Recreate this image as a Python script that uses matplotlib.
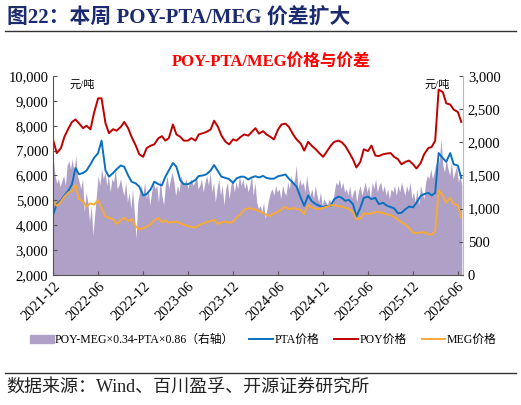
import pandas as pd
import matplotlib
matplotlib.use("Agg")
import matplotlib.pyplot as plt
import matplotlib.dates as mdates
from matplotlib.patches import Patch
from matplotlib.lines import Line2D
from matplotlib.ticker import FuncFormatter

plt.rcParams['font.family'] = ['Liberation Serif', 'Noto Sans CJK SC']
plt.rcParams['axes.unicode_minus'] = False

# semi-monthly prices (yuan/ton), from 2021-12-01
poy = [7400, 6900, 7100, 7550, 7900, 8150, 8250, 8100, 7900, 8000,
       7850, 8500, 9100, 9100, 8100, 7700, 7860, 7800, 7950, 8150,
       7900, 7550, 7200, 6850, 6750, 7100, 7200, 7250, 7500, 7580,
       7400, 7500, 8050, 7650, 7550, 7400, 7400, 7500, 7400, 7650,
       7700, 7750, 7850, 8200, 7950, 7600, 7350, 7250, 7450, 7400,
       7550, 7650, 7600, 7750, 7900, 7680, 7780, 7650, 7550, 7450,
       7850, 8050, 8080, 7950, 7650, 7450, 7280, 7000, 7350, 7200,
       7050, 6900, 6750, 6950, 7200, 7350, 7400, 7330, 7180, 6950,
       6650, 6320, 6550, 7050, 6980, 7200, 6800, 6780, 6850, 6880,
       6900, 6750, 6650, 6450, 6550, 6600, 6450, 6280, 6500, 6850,
       7100, 7150, 7400, 9450, 9350, 8900, 8850, 8650, 8550, 8150]

pta = [4450, 4850, 5000, 5200, 5400, 5650, 6300, 6050, 6100, 6200,
       6450, 6700, 6900, 7400, 6200, 5950, 6100, 6250, 6400, 6350,
       6000, 5750, 5680, 5550, 5200, 5250, 5450, 5750, 5650, 5600,
       5950, 6200, 6500, 6350, 5800, 5650, 5650, 5720, 5820, 5980,
       6000, 6050, 6200, 6420, 6170, 5950, 5900, 5850, 5700, 5880,
       5950, 5950, 5840, 5920, 5970, 5920, 5980, 5900, 5870, 5870,
       5970, 6000, 6040, 5870, 5700, 5550, 5100, 4780, 5200, 4970,
       4850, 4780, 4730, 4780, 4780, 5050, 5150, 5100, 4980, 5020,
       4850, 4350, 4700, 5100, 5150, 5050, 5100, 4850, 4900, 4800,
       4730, 4680, 4480, 4500, 4650, 4750, 4720, 4900, 5180, 5250,
       5300, 5200, 5300, 6900, 6700, 6550, 6900, 6450, 6400, 5900]

meg = [4950, 4780, 4950, 5150, 5320, 5380, 5620, 5050, 4960, 4750,
       4880, 4830, 5000, 4700, 4350, 4300, 4240, 4050, 4200, 4300,
       4160, 4250, 3950, 3830, 3890, 3930, 4050, 4200, 4290, 4120,
       4200, 4100, 4130, 4140, 4080, 4020, 3970, 3930, 3900, 4000,
       4070, 4120, 4170, 4220, 4050, 4120, 4150, 4090, 4140, 4300,
       4450, 4620, 4680, 4670, 4630, 4560, 4500, 4420, 4370, 4480,
       4540, 4650, 4740, 4640, 4690, 4660, 4610, 4450, 4820, 4720,
       4660, 4650, 4700, 4740, 4800, 4810, 4770, 4740, 4710, 4660,
       4550, 4230, 4280, 4480, 4450, 4480, 4520, 4540, 4490, 4440,
       4400, 4340, 4220, 4120, 4020, 3880, 3700, 3680, 3710, 3720,
       3640, 3620, 3750, 5400, 5200, 4900, 5100, 4850, 4800, 4300]

# weekly spread POY-MEG*0.34-PTA*0.86 (right axis)
spread = [1750, 1500, 1380, 1450, 1330, 1420, 1500, 1350, 1650, 1720,
          1600, 1750, 1550, 1800, 1500, 1400, 1300, 1450, 950, 1250,
          1100, 800, 1050, 600, 900, 1200, 1500, 1350, 1600, 1450,
          1550, 1350, 1500, 1250, 1450, 1400, 1600, 1300, 1350, 1450,
          1300, 1200, 1400, 1100, 1250, 1000, 1300, 950, 550, 1100,
          1250, 1350, 1200, 1400, 1150, 1300, 1050, 1250, 1400, 1300,
          1350, 1100, 1450, 1200, 1050, 1350, 1500, 1300, 1450, 1550,
          1400, 1200, 1350, 1250, 1500, 1400, 1350, 1450, 1300, 1400,
          1450, 1350, 1400, 1500, 1300, 1350, 1450, 1250, 1400, 1500,
          1350, 1550, 1250, 1400, 1100, 1300, 1450, 1200, 1350, 1050,
          1300, 1400, 1150, 1350, 1450, 1250, 1400, 1300, 1500, 1350,
          1450, 1300, 1400, 1250, 1350, 1500, 1200, 1400, 1100, 1000,
          1050, 950, 1100, 850, 1000, 1150, 1250, 1300, 1200, 1350,
          1250, 1300, 1150, 1350, 1250, 1200, 1400, 1300, 1500, 1350,
          1450, 1650, 1300, 1450, 1350, 1400, 1250, 1500, 1300, 1200,
          1300, 1150, 1350, 1200, 1100, 1250, 1050, 1150, 1100, 1050,
          1150, 1100, 1050, 1250, 1400, 1350, 1450, 1300, 1400, 1250,
          1300, 1200, 1350, 1150, 1250, 1300, 1100, 1250, 1350, 1200,
          1300, 1400, 1250, 1350, 1150, 1400, 1300, 1450, 1250, 1350,
          1400, 1250, 1350, 1200, 1300, 1150, 1300, 1250, 1350, 1200,
          1350, 1250, 1400, 1300, 1200, 1350, 1250, 1400, 1150, 1250,
          1100, 1300, 1050, 1350, 1250, 1150, 1400, 1500, 1450, 1600,
          1450, 1550, 1700, 1600, 1750, 2050, 1650, 1550, 1750, 1600,
          1500, 1700, 1450, 1550, 1650, 1400, 1500, 1350]

price_dates = pd.date_range('2021-12-01', periods=len(poy), freq='SMS')
spread_dates = pd.date_range('2021-12-01', periods=len(spread), freq='7D')

C_PURPLE = '#afa0c8'
C_BLUE = '#0a70c0'
C_RED = '#c00000'
C_ORANGE = '#f7a935'

fig = plt.figure(figsize=(5.21, 4.05), dpi=100)

# header
fig.text(0.013, 0.955, '图22：本周 POY-PTA/MEG 价差扩大', fontsize=15,
         fontweight='bold', color='#1c2a6e', va='center')
fig.add_artist(Line2D([0.01, 0.99], [0.923, 0.923], color='#333333', lw=1.0))

ax = fig.add_axes([0.1023, 0.321, 0.7864, 0.4915])
ax2 = ax.twinx()

ax2.fill_between(spread_dates, 0, spread, color=C_PURPLE, lw=0)
ax.plot(price_dates, pta, color=C_BLUE, lw=1.4)
ax.plot(price_dates, poy, color=C_RED, lw=1.4)
ax.plot(price_dates, meg, color=C_ORANGE, lw=1.4)

ax.set_zorder(ax2.get_zorder() + 1)
ax.patch.set_visible(False)

ax.set_xlim(pd.Timestamp('2021-12-01'), pd.Timestamp('2026-06-22'))
ax.set_ylim(2000, 10000)
ax2.set_ylim(0, 3000)
ax.set_yticks(range(2000, 10001, 1000))
ax2.set_yticks(range(0, 3001, 500))
comma = FuncFormatter(lambda v, p: f'{int(v):,}')
ax.yaxis.set_major_formatter(comma)
ax2.yaxis.set_major_formatter(comma)

ax.xaxis.set_major_locator(mdates.MonthLocator(bymonth=(6, 12)))
ax.xaxis.set_major_formatter(mdates.DateFormatter('%Y-%m'))
for lbl in ax.get_xticklabels():
    lbl.set_rotation(45)
    lbl.set_ha('right')
    lbl.set_rotation_mode('anchor')

for a in (ax, ax2):
    a.spines['top'].set_visible(False)
    a.tick_params(direction='in', labelsize=10.5, length=3, color='#555555')
ax.spines['left'].set_color('#555555')
ax.spines['bottom'].set_color('#555555')
ax2.spines['right'].set_color('#bbbbbb')
ax2.spines['left'].set_visible(False)
ax2.spines['bottom'].set_visible(False)
ax.spines['right'].set_visible(False)

ax.text(0.04, 0.955, '元/吨', transform=ax.transAxes, fontsize=8, va='center')
ax.text(0.905, 0.955, '元/吨', transform=ax.transAxes, fontsize=8, va='center')

fig.text(0.52, 0.848, 'POY-PTA/MEG价格与价差', fontsize=12, fontweight='bold',
         color='#ff0000', ha='center', va='center')

handles = [Patch(color=C_PURPLE),
           Line2D([], [], color=C_BLUE, lw=1.4),
           Line2D([], [], color=C_RED, lw=1.4),
           Line2D([], [], color=C_ORANGE, lw=1.4)]
labels = ['POY-MEG×0.34-PTA×0.86（右轴）', 'PTA价格', 'POY价格', 'MEG价格']
fig.legend(handles, labels, loc='center', bbox_to_anchor=(0.505, 0.16), ncol=4,
           frameon=False, fontsize=8.5, handlelength=2.0, handletextpad=0.1,
           columnspacing=1.3)

fig.add_artist(Line2D([0.01, 0.99], [0.08, 0.08], color='#333333', lw=1.0))
fig.text(0.013, 0.045, '数据来源：Wind、百川盈孚、开源证券研究所', fontsize=13,
         color='#222222', va='center')

fig.savefig('out.png', dpi=100)
